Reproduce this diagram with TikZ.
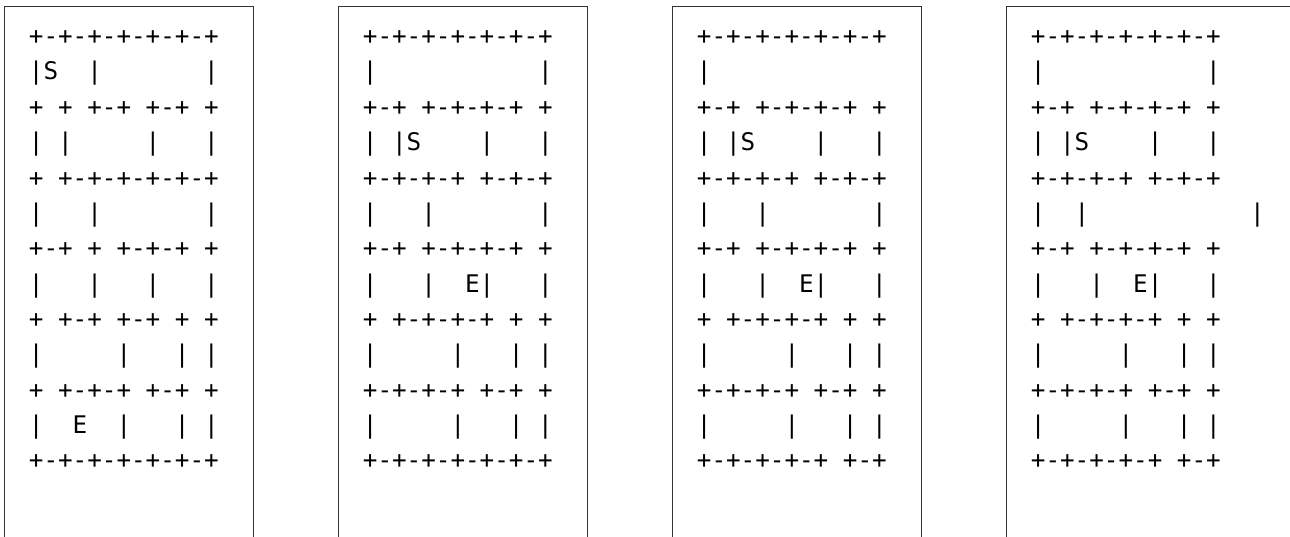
\documentclass[tikz,border=0pt]{standalone}
\usepackage{fontspec}
\newfontfamily\mazefont{DejaVu Sans Mono}
\usetikzlibrary{positioning}

\begin{document}
\begin{tikzpicture}[
        x=0.5pt, y=-0.5pt,
        mazebox/.style={rectangle, draw=black!80, line width=0.5pt, minimum width=#1, minimum height=272pt, inner sep=0pt},
        mazebox/.default=124.5pt,
        maze/.style={align=left, inner sep=0pt, font=\mazefont\fontsize{12.13pt}{17.68pt}\selectfont}
    ]
%
    \useasboundingbox (0,0) rectangle (1290,536);
%
    % Frames
    \node[mazebox, anchor=north west] (box1) at (4.3,6) {};
    \node[mazebox, right=42pt of box1] (box2) {};
    \node[mazebox, right=42pt of box2] (box3) {};
    \node[mazebox=142.5pt, right=42pt of box3] (box4) {};
%
    % Mazes
    \node[maze, below right=12.15pt and 12.1pt of box1.north west] (maze1) {%
        +-+-+-+-+-+-+\\
        |S~~|~~~~~~~|\\
        +~+~+-+~+-+~+\\
        |~|~~~~~|~~~|\\
        +~+-+-+-+-+-+\\
        |~~~|~~~~~~~|\\
        +-+~+~+-+-+~+\\
        |~~~|~~~|~~~|\\
        +~+-+~+-+~+~+\\
        |~~~~~|~~~|~|\\
        +~+-+-+~+-+~+\\
        |~~E~~|~~~|~|\\
        +-+-+-+-+-+-+};
    \node[maze, below right=12.15pt and 12.1pt of box2.north west] (maze2) {%
        +-+-+-+-+-+-+\\
        |~~~~~~~~~~~|\\
        +-+~+-+-+-+~+\\
        |~|S~~~~|~~~|\\
        +-+-+-+~+-+-+\\
        |~~~|~~~~~~~|\\
        +-+~+-+-+-+~+\\
        |~~~|~~E|~~~|\\
        +~+-+-+-+~+~+\\
        |~~~~~|~~~|~|\\
        +-+-+-+~+-+~+\\
        |~~~~~|~~~|~|\\
        +-+-+-+-+-+-+};
    \node[maze, below right=12.15pt and 12.1pt of box3.north west] (maze3) {%
        +-+-+-+-+-+-+\\
        |\\
        +-+~+-+-+-+~+\\
        |~|S~~~~|~~~|\\
        +-+-+-+~+-+-+\\
        |~~~|~~~~~~~|\\
        +-+~+-+-+-+~+\\
        |~~~|~~E|~~~|\\
        +~+-+-+-+~+~+\\
        |~~~~~|~~~|~|\\
        +-+-+-+~+-+~+\\
        |~~~~~|~~~|~|\\
        +-+-+-+-+~+-+};
    \node[maze, below right=12.15pt and 12.1pt of box4.north west] (maze4) {%
        +-+-+-+-+-+-+\\
        |~~~~~~~~~~~|\\
        +-+~+-+-+-+~+\\
        |~|S~~~~|~~~|\\
        +-+-+-+~+-+-+\\
        |~~|~~~~~~~~~~~|\\
        +-+~+-+-+-+~+\\
        |~~~|~~E|~~~|\\
        +~+-+-+-+~+~+\\
        |~~~~~|~~~|~|\\
        +-+-+-+~+-+~+\\
        |~~~~~|~~~|~|\\
        +-+-+-+-+~+-+};
%
\end{tikzpicture}
\end{document}
